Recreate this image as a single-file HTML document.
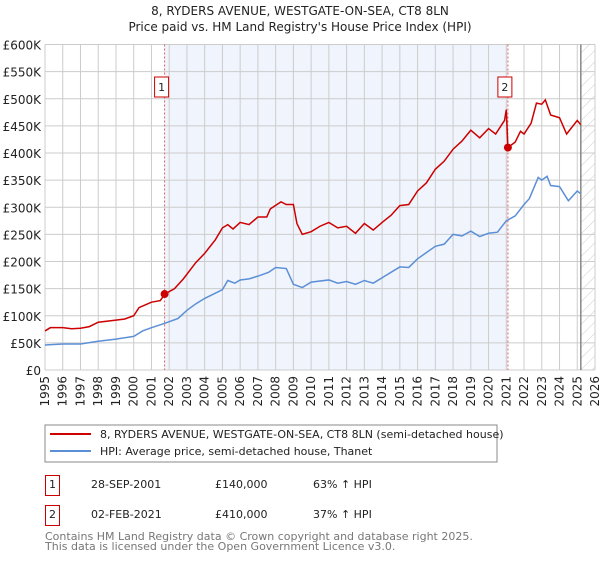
<!DOCTYPE html>
<html><head><meta charset="utf-8"><style>
body{margin:0;background:#fff;font-family:"Liberation Sans","DejaVu Sans",sans-serif;}
svg text{font-family:"DejaVu Sans","Liberation Sans",sans-serif;}
</style></head><body>
<svg width="600" height="560" viewBox="0 0 600 560">
<defs><pattern id="hatch" width="8" height="8" patternUnits="userSpaceOnUse" patternTransform="rotate(45)"><line x1="0" y1="0" x2="0" y2="8" stroke="#ccc" stroke-width="1"/></pattern></defs>
<text x="300" y="15" text-anchor="middle" font-size="12" fill="#222">8, RYDERS AVENUE, WESTGATE-ON-SEA, CT8 8LN</text>
<text x="300" y="31" text-anchor="middle" font-size="12" fill="#222">Price paid vs. HM Land Registry's House Price Index (HPI)</text>
<g id="plot"></g>
<rect x="45" y="425" width="452" height="37" fill="#fff" stroke="#888"/>
<line x1="50" y1="434" x2="91" y2="434" stroke="#cc0000" stroke-width="2"/>
<text x="100" y="438" font-size="11" fill="#222">8, RYDERS AVENUE, WESTGATE-ON-SEA, CT8 8LN (semi-detached house)</text>
<line x1="50" y1="451" x2="91" y2="451" stroke="#5b8fd6" stroke-width="2"/>
<text x="100" y="455" font-size="11" fill="#222">HPI: Average price, semi-detached house, Thanet</text>
<g font-size="11" fill="#222">
<rect x="45.5" y="475.5" width="14" height="20" fill="#fff" stroke="#cc0000"/><text x="52.5" y="488" text-anchor="middle">1</text>
<text x="91" y="488">28-SEP-2001</text><text x="215" y="488">£140,000</text><text x="313" y="488">63% ↑ HPI</text>
<rect x="45.5" y="505.5" width="14" height="20" fill="#fff" stroke="#cc0000"/><text x="52.5" y="518" text-anchor="middle">2</text>
<text x="91" y="518">02-FEB-2021</text><text x="215" y="518">£410,000</text><text x="313" y="518">37% ↑ HPI</text>
</g>
<text x="45" y="540" font-size="11" fill="#777">Contains HM Land Registry data © Crown copyright and database right 2025.</text>
<text x="45" y="550" font-size="11" fill="#777">This data is licensed under the Open Government Licence v3.0.</text>
</svg>
<script>
const yTicks=[0,50,100,150,200,250,300,350,400,450,500,550,600];
const yTickLabels=["£0","£50K","£100K","£150K","£200K","£250K","£300K","£350K","£400K","£450K","£500K","£550K","£600K"];
const xYears=[1995,1996,1997,1998,1999,2000,2001,2002,2003,2004,2005,2006,2007,2008,2009,2010,2011,2012,2013,2014,2015,2016,2017,2018,2019,2020,2021,2022,2023,2024,2025,2026];
const hpiT=[1995,1996,1997,1998,1999,2000,2000.5,2001,2001.75,2002.5,2003,2003.5,2004,2005,2005.3,2005.7,2006,2006.5,2007,2007.6,2008,2008.6,2009,2009.5,2010,2011,2011.5,2012,2012.5,2013,2013.5,2014,2015,2015.5,2016,2017,2017.5,2018,2018.5,2019,2019.5,2020,2020.5,2021,2021.5,2022,2022.3,2022.8,2023,2023.3,2023.5,2024,2024.5,2025,2025.2];
const hpiV=[46,48,48,53,57,62,72,78,86,95,110,122,132,148,165,160,166,168,173,180,189,187,158,152,162,166,160,163,158,165,160,170,190,189,205,228,232,250,247,256,246,252,254,275,284,305,316,355,350,357,340,338,312,330,325];
const priceT=[1995,1995.3,1996,1996.5,1997,1997.5,1998,1999,1999.5,2000,2000.3,2001,2001.5,2001.75,2002.3,2002.8,2003.5,2004,2004.6,2005,2005.3,2005.6,2006,2006.5,2007,2007.5,2007.7,2008.3,2008.6,2009,2009.2,2009.5,2010,2010.5,2011,2011.5,2012,2012.5,2013,2013.5,2014,2014.5,2015,2015.5,2016,2016.5,2017,2017.5,2018,2018.5,2019,2019.5,2020,2020.4,2020.9,2021.0,2021.09,2021.5,2021.8,2022,2022.4,2022.7,2023,2023.2,2023.5,2024,2024.4,2025,2025.2];
const priceV=[72,78,78,76,77,80,88,92,94,100,115,125,128,140,150,168,198,215,240,262,268,260,272,268,282,282,297,310,305,305,270,250,255,265,272,262,265,252,270,258,272,285,303,305,330,345,370,385,407,422,442,428,445,435,460,480,410,420,440,435,455,492,490,498,470,465,435,460,452];
const saleLabels=["1","2"];
const saleT=[2001.74,2021.09];
const saleV=[140,410];
const X0=45,X1=595,Y0=370,Y1=44.5;
const sx=t=>X0+(t-1995)/(2026-1995)*(X1-X0);
const sy=v=>Y0-v/600*(Y0-Y1);
const NS="http://www.w3.org/2000/svg";
const g=document.getElementById('plot');
function mk(tag,a,parent){const e=document.createElementNS(NS,tag);for(const k in a)e.setAttribute(k,a[k]);(parent||g).appendChild(e);return e;}
let e;
e=mk('rect',{x:sx(saleT[0]),y:Y1,width:sx(saleT[1])-sx(saleT[0]),height:Y0-Y1,fill:'#f0f4fc'});


e=mk('rect',{x:sx(2025.2),y:Y1,width:X1-sx(2025.2),height:Y0-Y1,fill:'url(#hatch)'});


yTicks.forEach((v,i)=>{
 e=mk('line',{x1:X0,x2:X1,y1:sy(v),y2:sy(v),stroke:'#ccc','stroke-width':1});
 
 
 e=mk('text',{x:41,y:sy(v)+5,'text-anchor':'end','font-size':12,fill:'#222'});e.textContent=yTickLabels[i];
 
 
});
xYears.forEach(y=>{
 e=mk('line',{x1:sx(y),x2:sx(y),y1:Y1,y2:Y0,stroke:'#ccc','stroke-width':1});
 
 
 e=mk('text',{x:0,y:0,'text-anchor':'end','font-size':12,fill:'#222',transform:`translate(${sx(y)+4},376) rotate(-90)`});e.textContent=y;
 
 
});
e=mk('line',{x1:sx(2025.2),x2:sx(2025.2),y1:Y1,y2:Y0,stroke:'#888','stroke-width':1.5});


saleT.forEach((t,i)=>{
 e=mk('line',{x1:sx(t),x2:sx(t),y1:Y1,y2:Y0,stroke:'#e06060','stroke-width':1,'stroke-dasharray':'2,2'});
 
 
});
e=mk('polyline',{points:hpiT.map((t,i)=>sx(t)+','+sy(hpiV[i])).join(' '),fill:'none',stroke:'#5b8fd6','stroke-width':1.5});


e=mk('polyline',{points:priceT.map((t,i)=>sx(t)+','+sy(priceV[i])).join(' '),fill:'none',stroke:'#cc0000','stroke-width':1.5});


saleT.forEach((t,i)=>{
 e=mk('circle',{cx:sx(t),cy:sy(saleV[i]),r:4,fill:'#cc0000'});
 
 
 e=mk('rect',{x:sx(t)-10,y:77,width:14,height:20,fill:'#fff',stroke:'#cc0000'});
 
 
 e=mk('text',{x:sx(t)-3,y:91,'text-anchor':'middle','font-size':11,fill:'#222'});e.textContent=saleLabels[i];
 
 
});
</script>
</body></html>
